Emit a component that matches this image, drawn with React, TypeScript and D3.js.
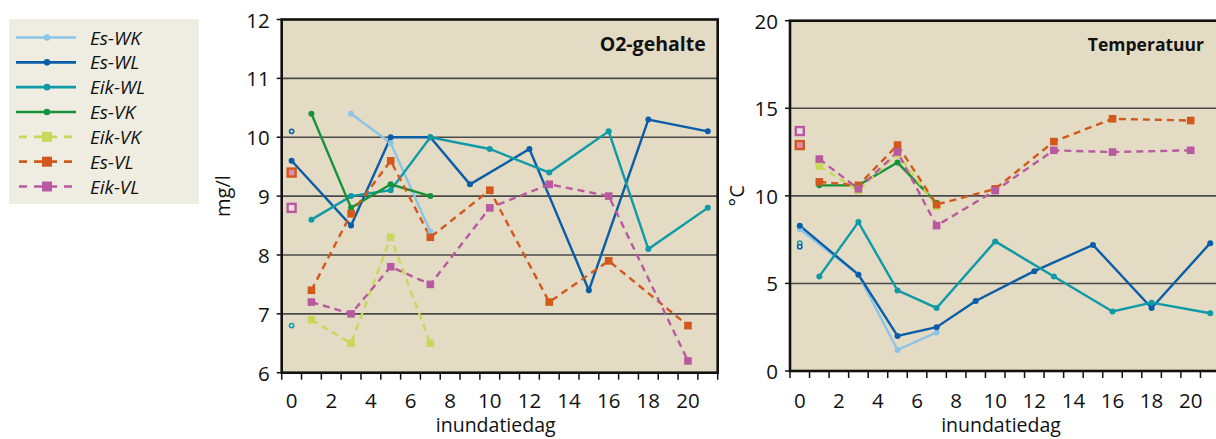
import React from "react";
import * as d3 from "d3";

type Pt = [number, number];

// categories (inundatiedag 0..21) and tick labels
const DAYS = d3.range(0, 22);
const X_TICK_LABELS = [0, 2, 4, 6, 8, 10, 12, 14, 16, 18, 20];
const O2_TICKS = [6, 7, 8, 9, 10, 11, 12];
const TEMP_TICKS = [0, 5, 10, 15, 20];

const SERIES = ["Es-WK", "Es-WL", "Eik-WL", "Es-VK", "Eik-VK", "Es-VL", "Eik-VL"];
const COLORS = ["#8cc4e8", "#0a5ea8", "#0e9aa7", "#16933a", "#c8d85a", "#d2581c", "#b95aa0"];
const DASHED = [false, false, false, false, true, true, true];

// O2-gehalte (mg/l)
const o2EsWK: Pt[] = [[3, 10.4], [5, 9.9], [7, 8.4]];
const o2EsWL: Pt[] = [[0, 9.6], [3, 8.5], [5, 10.0], [7, 10.0], [9, 9.2], [12, 9.8], [15, 7.4], [18, 10.3], [21, 10.1]];
const o2EikWL: Pt[] = [[1, 8.6], [3, 9.0], [5, 9.1], [7, 10.0], [10, 9.8], [13, 9.4], [16, 10.1], [18, 8.1], [21, 8.8]];
const o2EsVK: Pt[] = [[1, 10.4], [3, 8.8], [5, 9.2], [7, 9.0]];
const o2EikVK: Pt[] = [[1, 6.9], [3, 6.5], [5, 8.3], [7, 6.5]];
const o2EsVL: Pt[] = [[1, 7.4], [3, 8.7], [5, 9.6], [7, 8.3], [10, 9.1], [13, 7.2], [16, 7.9], [20, 6.8]];
const o2EikVL: Pt[] = [[1, 7.2], [3, 7.0], [5, 7.8], [7, 7.5], [10, 8.8], [13, 9.2], [16, 9.0], [20, 6.2]];
// losse beginwaarden op dag 0 (open markers): [serie-index, waarde]
const o2Start: Pt[] = [[1, 10.1], [5, 9.4], [6, 8.8], [2, 6.8]];

// Temperatuur (°C)
const tEsWK: Pt[] = [[0, 8.1], [3, 5.5], [5, 1.2], [7, 2.2]];
const tEsWL: Pt[] = [[0, 8.3], [3, 5.5], [5, 2.0], [7, 2.5], [9, 4.0], [12, 5.7], [15, 7.2], [18, 3.6], [21, 7.3]];
const tEikWL: Pt[] = [[1, 5.4], [3, 8.5], [5, 4.6], [7, 3.6], [10, 7.4], [13, 5.4], [16, 3.4], [18, 3.9], [21, 3.3]];
const tEsVK: Pt[] = [[1, 10.6], [3, 10.6], [5, 11.9], [7, 9.6]];
const tEikVK: Pt[] = [[1, 11.7], [3, 10.3], [5, 12.4], [7, 9.4]];
const tEsVL: Pt[] = [[1, 10.8], [3, 10.6], [5, 12.9], [7, 9.5], [10, 10.4], [13, 13.1], [16, 14.4], [20, 14.3]];
const tEikVL: Pt[] = [[1, 12.1], [3, 10.4], [5, 12.5], [7, 8.3], [10, 10.3], [13, 12.6], [16, 12.5], [20, 12.6]];
const tStart: Pt[] = [[6, 13.7], [5, 12.9], [2, 7.3], [1, 7.1]];

const O2_DATA = [o2EsWK, o2EsWL, o2EikWL, o2EsVK, o2EikVK, o2EsVL, o2EikVL];
const TEMP_DATA = [tEsWK, tEsWL, tEikWL, tEsVK, tEikVK, tEsVL, tEikVL];

const FONT = "'Open Sans', 'Noto Sans', sans-serif";
const PLOT_BG = "#e3dbc4";

interface PanelProps {
  xRange: [number, number];
  yRange: [number, number];
  yDomain: [number, number];
  yTicks: number[];
  data: Pt[][];
  start: Pt[];
  title: string;
  titleSize: number;
  yLabel: string;
  yLabelX: number;
}

function Panel({ xRange, yRange, yDomain, yTicks, data, start, title, titleSize, yLabel, yLabelX }: PanelProps) {
  const x = d3.scaleBand<number>().domain(DAYS).range(xRange);
  const y = d3.scaleLinear().domain(yDomain).range(yRange);
  const cx = (d: number) => (x(d) ?? 0) + x.bandwidth() / 2;
  const line = d3.line<Pt>().x((d) => cx(d[0])).y((d) => y(d[1]));
  const [x0, x1] = xRange;
  const [yb, yt] = yRange;
  const boundaries = DAYS.map((d) => x(d) ?? 0).concat([x1]);

  return (
    <g>
      <rect x={x0} y={yt} width={x1 - x0} height={yb - yt} fill={PLOT_BG} />
      {yTicks.slice(1, -1).map((t) => (
        <line key={t} x1={x0} x2={x1} y1={y(t)} y2={y(t)} stroke="#4a4a4a" strokeWidth={1.6} />
      ))}
      {/* series */}
      {data.map((pts, i) => (
        <path
          key={"l" + i}
          d={line(pts) || ""}
          fill="none"
          stroke={COLORS[i]}
          strokeWidth={2.4}
          strokeDasharray={DASHED[i] ? "7,5" : undefined}
        />
      ))}
      {data.map((pts, i) =>
        pts.map((p, j) =>
          DASHED[i] ? (
            <rect key={`m${i}-${j}`} x={cx(p[0]) - 3.8} y={y(p[1]) - 3.8} width={7.6} height={7.6} fill={COLORS[i]} />
          ) : (
            <circle key={`m${i}-${j}`} cx={cx(p[0])} cy={y(p[1])} r={3} fill={COLORS[i]} />
          )
        )
      )}
      {/* open day-0 markers */}
      {start.map(([si, v], k) =>
        DASHED[si] ? (
          <rect
            key={"s" + k}
            x={cx(0) - 4}
            y={y(v) - 4}
            width={8}
            height={8}
            fill={si === 5 ? "#d98cb4" : "#eadfe0"}
            stroke={COLORS[si]}
            strokeWidth={2.4}
          />
        ) : (
          <circle key={"s" + k} cx={cx(0)} cy={y(v)} r={2.1} fill="#dfe8e6" stroke={COLORS[si]} strokeWidth={1.6} />
        )
      )}
      {/* frame */}
      <rect x={x0} y={yt} width={x1 - x0} height={yb - yt} fill="none" stroke="#111" strokeWidth={2.6} />
      {/* y ticks */}
      {yTicks.map((t) => (
        <g key={"y" + t}>
          <line x1={x0 - 5} x2={x0} y1={y(t)} y2={y(t)} stroke="#111" strokeWidth={1.5} />
          <text x={x0 - 12} y={y(t)} textAnchor="end" dominantBaseline="central" fontSize={20.5} fill="#111">
            {t}
          </text>
        </g>
      ))}
      {/* x ticks */}
      {boundaries.map((b, k) => (
        <line key={"xt" + k} x1={b} x2={b} y1={yb} y2={yb + 7} stroke="#111" strokeWidth={1.5} />
      ))}
      {X_TICK_LABELS.map((t) => (
        <text key={"xl" + t} x={cx(t)} y={407.5} textAnchor="middle" fontSize={20.5} fill="#111">
          {t}
        </text>
      ))}
      <text x={(x0 + x1) / 2 - 4} y={432} textAnchor="middle" fontSize={19.5} fill="#111">
        inundatiedag
      </text>
      <text
        transform={`translate(${yLabelX},${(yt + yb) / 2}) rotate(-90)`}
        textAnchor="middle"
        dominantBaseline="central"
        fontSize={20}
        fill="#111"
      >
        {yLabel}
      </text>
      <text x={Math.min(x1, 1216) - 12} y={51} textAnchor="end" fontSize={titleSize} fontWeight="bold" fill="#111">
        {title}
      </text>
    </g>
  );
}

function Legend() {
  const rowY = d3.scaleLinear().domain([0, 6]).range([37.5, 186.5]);
  return (
    <g>
      <rect x={9} y={19} width={190} height={185} fill="#efede1" />
      {SERIES.map((s, i) => {
        const yy = rowY(i);
        return (
          <g key={s}>
            {DASHED[i] ? (
              <>
                <line x1={19} x2={74} y1={yy} y2={yy} stroke={COLORS[i]} strokeWidth={2.6} strokeDasharray="8,7" />
                <rect x={42} y={yy - 5} width={10} height={10} fill={COLORS[i]} />
              </>
            ) : (
              <>
                <line x1={16} x2={76} y1={yy} y2={yy} stroke={COLORS[i]} strokeWidth={2.6} />
                <circle cx={47} cy={yy} r={3.3} fill={COLORS[i]} />
              </>
            )}
            <text x={90} y={yy} dominantBaseline="central" fontSize={19} fontStyle="italic" fill="#111">
              {s}
            </text>
          </g>
        );
      })}
    </g>
  );
}

export default function App() {
  return (
    <svg
      width={1216}
      height={439}
      style={{ position: "absolute", left: 0, top: 0, fontFamily: FONT, background: "#fff" }}
    >
      <Legend />
      <Panel
        xRange={[281.7, 717.7]}
        yRange={[372.7, 19.5]}
        yDomain={[6, 12]}
        yTicks={O2_TICKS}
        data={O2_DATA}
        start={o2Start}
        title="O2-gehalte"
        titleSize={19.5}
        yLabel="mg/l"
        yLabelX={222}
      />
      <Panel
        xRange={[790, 1220]}
        yRange={[371, 20.7]}
        yDomain={[0, 20]}
        yTicks={TEMP_TICKS}
        data={TEMP_DATA}
        start={tStart}
        title="Temperatuur"
        titleSize={17.5}
        yLabel="°C"
        yLabelX={736}
      />
    </svg>
  );
}
